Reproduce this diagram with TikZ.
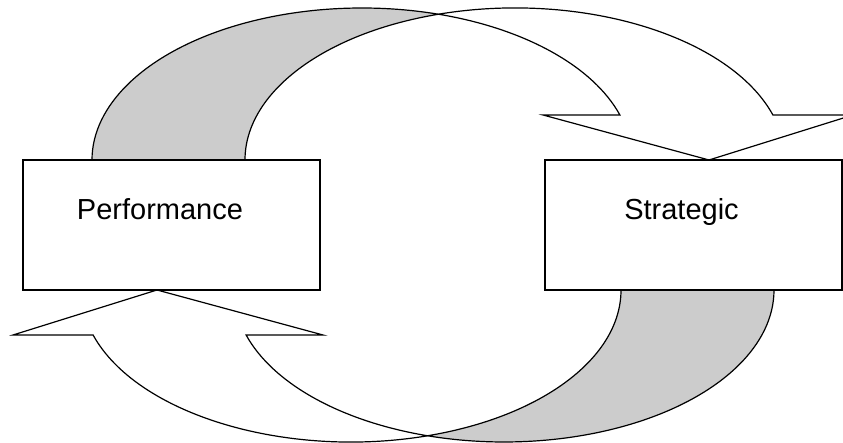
\documentclass[tikz,border=0pt]{standalone}
\usepackage{fontspec}
\setmainfont{Liberation Sans}
\usetikzlibrary{calc}

\begin{document}
\begin{tikzpicture}[x=1pt,y=1pt,line width=1.2pt,
  ell/.style={x radius=270,y radius=152},
  back/.style={fill=gray!40,draw=black},
  front/.style={fill=white,draw=black},
  box/.style={draw=black,fill=white,minimum width=297pt,minimum height=130pt,inner sep=0pt},
  lbl/.style={font=\fontsize{29}{34}\selectfont,anchor=base,inner sep=0pt}]
  \useasboundingbox (0,0) rectangle (843,443);
  \clip (0,0) rectangle (843,443);
  \foreach \r in {0,180}{
    \begin{scope}[rotate around={\r:(433,218)}]
      \coordinate (L) at (92,283);
      \coordinate (T) at (438.5,428.8);
      \path[back] (L) arc[ell,start angle=180,end angle=73.54]
        arc[ell,start angle=106.46,end angle=180] -- cycle;
      \path[front] (T) arc[ell,start angle=106.46,end angle=17.22]
        -- (853,328) -- (709,283) -- (543,328) -- (619.9,328)
        arc[ell,start angle=17.22,end angle=73.54] -- cycle;
    \end{scope}
  }
  \node[box] (perf) at (171.5,218) {};
  \node[box] (strat) at (693.5,218) {};
  \node[lbl] (perftxt) at (160,223.5) {Performance};
  \node[lbl] (strattxt) at (681.5,223.5) {Strategic};
\end{tikzpicture}
\end{document}
